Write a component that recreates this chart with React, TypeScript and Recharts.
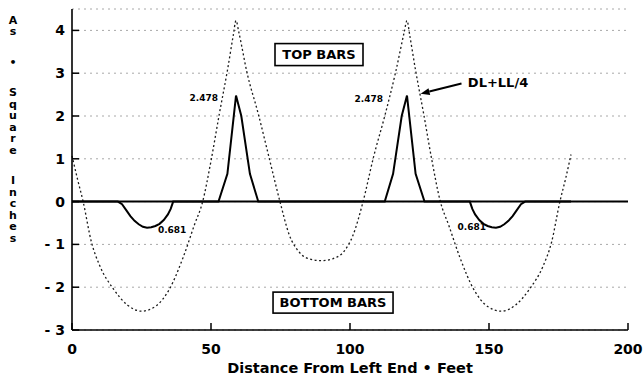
import React from 'react';
import {
  LineChart,
  Line,
  XAxis,
  YAxis,
  CartesianGrid,
  ReferenceLine,
  ReferenceDot,
} from 'recharts';

const xTicks = [0, 50, 100, 150, 200];
const yTicks = [-3, -2, -1, 0, 1, 2, 3, 4];

// DL+LL/4 envelope (dotted curve)
const dlFeet = [
  0, 2, 4, 7, 10, 15, 20, 25, 30, 35, 40, 44, 47, 50, 53, 56, 58, 59, 60, 63, 67, 71, 75, 78,
  82, 86, 90, 94, 98, 101, 104.7, 108.5, 112.5, 116.5, 119.5, 120.5, 121.5, 123.5, 126.5,
  129.5, 132.5, 135.5, 139.5, 144.5, 149.5, 154.5, 159.5, 164.5, 169.5, 172.5, 175.5, 177.5,
  179.5,
];
const dlAs = [
  1.07, 0.52, 0, -0.95, -1.5, -2.05, -2.42, -2.56, -2.45, -2.05, -1.3, -0.55, 0, 0.95, 2.05,
  3.1, 3.88, 4.23, 3.96, 3.0, 2.05, 1.0, -0.05, -0.75, -1.2, -1.35, -1.38, -1.33, -1.15, -0.8,
  0, 1.05, 2.0, 3.05, 3.96, 4.23, 3.88, 3.1, 2.05, 0.95, 0, -0.55, -1.3, -2.05, -2.45, -2.56,
  -2.42, -2.05, -1.5, -0.95, 0, 0.52, 1.1,
];

// required bar area (solid curve)
const barFeet = [
  0, 16.5, 18, 19.5, 21, 22.5, 24, 25.5, 27, 28.5, 30, 31.5, 33, 34.5, 35.5, 36.4, 52.7, 55.9,
  59, 60.9, 64, 67, 112.5, 115.5, 118.6, 120.5, 123.6, 126.8, 143.1, 144, 145, 146.5, 148,
  149.5, 151, 152.5, 154, 155.5, 157, 158.5, 160, 161.5, 163, 179.5,
];
const barAs = [
  0, 0, -0.06, -0.2, -0.34, -0.45, -0.53, -0.59, -0.61, -0.6, -0.57, -0.52, -0.43, -0.3, -0.17,
  0, 0, 0.65, 2.478, 2.0, 0.65, 0, 0, 0.65, 2.0, 2.478, 0.65, 0, 0, -0.17, -0.3, -0.43, -0.52,
  -0.57, -0.6, -0.61, -0.59, -0.53, -0.45, -0.34, -0.2, -0.06, 0, 0,
];

const FONT = '"DejaVu Sans", Arial, sans-serif';

// merge both curves onto one x table
const rowMap: Record<string, any> = {};
dlFeet.forEach((f, i) => {
  rowMap[f] = { ...(rowMap[f] || { x: f }), dl: dlAs[i] };
});
barFeet.forEach((f, i) => {
  rowMap[f] = { ...(rowMap[f] || { x: f }), bars: barAs[i] };
});
const rows = Object.values(rowMap).sort((a: any, b: any) => a.x - b.x);

const YTick = (props: any) => {
  const { x, y, payload } = props;
  const v = payload.value;
  const label = v < 0 ? `- ${Math.abs(v)}` : `${v}`;
  return (
    <g>
      <line x1={x + 7} x2={x + 14} y1={y} y2={y} stroke="#000" strokeWidth={1.5} />
      <text
        x={x}
        y={y}
        dy="0.36em"
        textAnchor="end"
        fontFamily={FONT}
        fontWeight="bold"
        fontSize={14}
        fill="#000"
      >
        {label}
      </text>
    </g>
  );
};

const XTick = (props: any) => {
  const { x, y, payload } = props;
  return (
    <g>
      <line x1={x} x2={x} y1={y - 19} y2={y - 26} stroke="#000" strokeWidth={1.5} />
      <text
        x={x}
        y={y}
        dy="0.36em"
        textAnchor="middle"
        fontFamily={FONT}
        fontWeight="bold"
        fontSize={14}
        fill="#000"
      >
        {payload.value}
      </text>
    </g>
  );
};

// stacked letters down the left edge
const YLabel = (props: any) => {
  const vb = props.viewBox || { x: 0 };
  const cx = vb.x + 13;
  let y = 20;
  const out: React.ReactNode[] = [];
  'As • Square Inches'.split('').forEach((ch, i) => {
    if (ch === ' ') {
      y += 19;
      return;
    }
    out.push(
      <text
        key={i}
        x={cx}
        y={y}
        dy="0.36em"
        textAnchor="middle"
        fontFamily={FONT}
        fontWeight="bold"
        fontSize={11}
        fill="#000"
      >
        {ch}
      </text>,
    );
    y += 11.5;
  });
  return <g>{out}</g>;
};

const BoxNote = ({ cx, cy, text, w, h }: any) => (
  <g>
    <rect x={cx - w / 2} y={cy - h / 2} width={w} height={h} fill="#fff" stroke="#000" strokeWidth={1.6} />
    <text
      x={cx}
      y={cy}
      dy="0.36em"
      textAnchor="middle"
      fontFamily={FONT}
      fontWeight="bold"
      fontSize={13}
      fill="#000"
    >
      {text}
    </text>
  </g>
);

const SmallNote = ({ cx, cy, text, anchor, size }: any) => (
  <text
    x={cx}
    y={cy}
    dy="0.36em"
    textAnchor={anchor}
    fontFamily={FONT}
    fontWeight="bold"
    fontSize={size}
    fill="#000"
  >
    {text}
  </text>
);

const Arrow = (props: any) => {
  const { x1, y1, x2, y2 } = props;
  const ang = Math.atan2(y2 - y1, x2 - x1);
  const len = 9;
  const hw = 3.5;
  const bx = x2 - len * Math.cos(ang);
  const by = y2 - len * Math.sin(ang);
  const px = -Math.sin(ang) * hw;
  const py = Math.cos(ang) * hw;
  return (
    <g>
      <line x1={x1} y1={y1} x2={bx} y2={by} stroke="#000" strokeWidth={2} />
      <polygon points={`${x2},${y2} ${bx + px},${by + py} ${bx - px},${by - py}`} fill="#000" />
    </g>
  );
};

export default function App() {
  return (
    <div style={{ position: 'absolute', left: 0, top: 0, background: '#fff' }}>
      <LineChart width={644} height={376} data={rows} margin={{ top: 9, right: 16, bottom: 0, left: 0 }}>
        <CartesianGrid horizontal vertical={false} stroke="#a8a8a8" strokeDasharray="2 4" />
        <XAxis
          type="number"
          dataKey="x"
          domain={[0, 200]}
          ticks={xTicks}
          height={46}
          tickLine={false}
          tickSize={0}
          tickMargin={19}
          tick={<XTick />}
          axisLine={{ stroke: '#000', strokeWidth: 1.6 }}
          label={{
            value: 'Distance From Left End • Feet',
            position: 'insideBottom',
            offset: 3,
            fill: '#000',
            fontSize: 14.5,
            fontWeight: 'bold',
            fontFamily: FONT,
          }}
        />
        <YAxis
          type="number"
          domain={[-3, 4.5]}
          ticks={yTicks}
          width={72}
          tickLine={false}
          tickSize={0}
          tickMargin={7}
          tick={<YTick />}
          axisLine={{ stroke: '#000', strokeWidth: 1.6 }}
          label={{ content: <YLabel /> }}
        />
        <ReferenceLine y={0} stroke="#000" strokeWidth={2} />
        <Line
          type="monotone"
          dataKey="dl"
          stroke="#1a1a1a"
          strokeWidth={1.3}
          strokeDasharray="2 2.5"
          dot={false}
          connectNulls
          isAnimationActive={false}
        />
        <Line
          type="linear"
          dataKey="bars"
          stroke="#000"
          strokeWidth={2}
          dot={false}
          connectNulls
          isAnimationActive={false}
        />
        <ReferenceDot x={88.85} y={3.435} r={1} shape={(p: any) => <BoxNote cx={p.cx} cy={p.cy} text="TOP BARS" w={88} h={22} />} />
        <ReferenceDot x={93.9} y={-2.36} r={1} shape={(p: any) => <BoxNote cx={p.cx} cy={p.cy} text="BOTTOM BARS" w={120} h={21} />} />
        <ReferenceDot x={52.5} y={2.43} r={1} shape={(p: any) => <SmallNote cx={p.cx} cy={p.cy} text="2.478" anchor="end" size={9} />} />
        <ReferenceDot x={111.9} y={2.41} r={1} shape={(p: any) => <SmallNote cx={p.cx} cy={p.cy} text="2.478" anchor="end" size={9} />} />
        <ReferenceDot x={30.9} y={-0.65} r={1} shape={(p: any) => <SmallNote cx={p.cx} cy={p.cy} text="0.681" anchor="start" size={9} />} />
        <ReferenceDot x={138.7} y={-0.58} r={1} shape={(p: any) => <SmallNote cx={p.cx} cy={p.cy} text="0.681" anchor="start" size={9} />} />
        <ReferenceDot x={142.4} y={2.78} r={1} shape={(p: any) => <SmallNote cx={p.cx} cy={p.cy} text="DL+LL/4" anchor="start" size={13} />} />
        <ReferenceLine
          segment={[
            { x: 140.1, y: 2.76 },
            { x: 125.4, y: 2.52 },
          ]}
          shape={Arrow}
        />
      </LineChart>
    </div>
  );
}
